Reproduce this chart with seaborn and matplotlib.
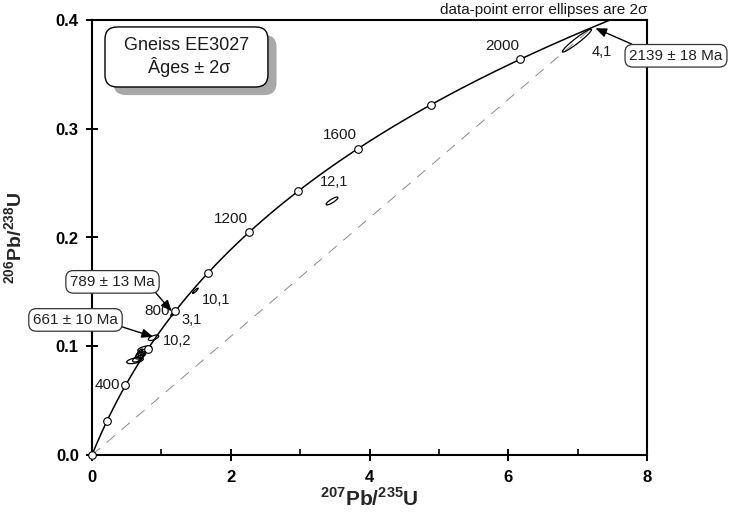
import numpy as np
import pandas as pd
import matplotlib
matplotlib.use("Agg")
import matplotlib.pyplot as plt
import seaborn as sns
from matplotlib.patches import Ellipse, FancyBboxPatch
import matplotlib.patheffects as pe
from matplotlib.ticker import MultipleLocator, FormatStrFormatter

# U decay constants (per year)
LAMBDA_238 = 1.55125e-10
LAMBDA_235 = 9.8485e-10

# Concordia age marks (Ma) and which of them carry a label
marker_ages = [0, 200, 400, 600, 800, 1000, 1200, 1400, 1600, 1800, 2000]
side_labelled_ages = [400, 800]
upper_labelled_ages = [1200, 1600, 2000]

# Zircon spots: 207Pb/235U, 206Pb/238U, 2-sigma errors and error correlation
spot_names = ["4,1", "12,1", "10,1", "3,1", "10,2"]
spot_x = [6.99, 3.46, 1.49, 1.175, 0.886]
spot_sx = [0.21, 0.085, 0.04, 0.04, 0.075]
spot_y = [0.381, 0.2336, 0.151, 0.1302, 0.1078]
spot_sy = [0.0105, 0.0036, 0.0024, 0.0025, 0.0025]
spot_rho = [0.96, 0.85, 0.9, 0.85, 0.6]
label_x = [7.20, 3.29, 1.58, 1.293, 1.024]
label_y = [0.371, 0.2514, 0.1426, 0.1242, 0.1052]

# Unlabelled spots of the young cluster
cluster_x = [0.76, 0.73, 0.70, 0.68, 0.62, 0.66, 0.71]
cluster_sx = [0.10, 0.065, 0.075, 0.05, 0.12, 0.075, 0.04]
cluster_y = [0.0975, 0.0945, 0.0915, 0.0935, 0.0868, 0.0885, 0.0895]
cluster_sy = [0.0028, 0.003, 0.0032, 0.004, 0.0028, 0.003, 0.0042]
cluster_rho = [0.5, 0.7, 0.6, 0.8, 0.5, 0.6, 0.9]

# Age callouts (Ma, 2-sigma) and their box positions
callout_age = [789, 661, 2139]
callout_err = [13, 10, 18]
callout_box_x = [0.2955, -0.238, 8.418]
callout_box_y = [0.1592, 0.1242, 0.3671]
callout_relpos = [(0.97, 0.0), (1.0, 0.1), (0.14, 1.0)]

discordia_age = 2139


def concordia(t_ma):
    t = np.asarray(t_ma, dtype=float) * 1e6
    return np.exp(LAMBDA_235 * t) - 1.0, np.exp(LAMBDA_238 * t) - 1.0


def error_ellipse(ax, x, sx, y, sy, rho, **kw):
    cov = np.array([[sx * sx, rho * sx * sy], [rho * sx * sy, sy * sy]])
    vals, vecs = np.linalg.eigh(cov)
    major = vecs[:, 1]
    angle = np.degrees(np.arctan2(major[1], major[0]))
    e = Ellipse((x, y), 2 * np.sqrt(vals[1]), 2 * np.sqrt(vals[0]),
                angle=angle, **kw)
    ax.add_patch(e)


sns.set_theme(style="ticks")
plt.rcParams["font.family"] = ["Liberation Sans", "DejaVu Sans"]
plt.rcParams["mathtext.fontset"] = "custom"
plt.rcParams["mathtext.rm"] = "Liberation Sans"
plt.rcParams["mathtext.bf"] = "Liberation Sans:bold"

fig = plt.figure(figsize=(7.37, 5.13), dpi=100)
ax = fig.add_axes([92 / 737, 58 / 513, 555 / 737, 435 / 513])
ax.set_xlim(0, 8)
ax.set_ylim(0, 0.4)

# Concordia curve
t_curve = np.linspace(0, 2400, 600)
cx, cy = concordia(t_curve)
curve = pd.DataFrame({"x": cx, "y": cy})
sns.lineplot(data=curve, x="x", y="y", sort=False, estimator=None,
             color="black", lw=1.1, ax=ax, zorder=3)

# Reference chord from the origin to the upper age
dx, dy = concordia([0, discordia_age])
ax.plot(dx, dy, color="#8a8a8a", lw=0.7, dashes=(11, 9), zorder=1)

# Error ellipses
for i in range(len(cluster_x)):
    error_ellipse(ax, cluster_x[i], cluster_sx[i], cluster_y[i], cluster_sy[i],
                  cluster_rho[i], fill=False, ec="black", lw=0.9, zorder=4)
for i in range(len(spot_names)):
    error_ellipse(ax, spot_x[i], spot_sx[i], spot_y[i], spot_sy[i],
                  spot_rho[i], fill=False, ec="black", lw=0.9, zorder=4)
    ax.text(label_x[i], label_y[i], spot_names[i], fontsize=10.5,
            ha="left", va="center", color="#1a1a1a", zorder=6)

# Age marks on the concordia
mx, my = concordia(marker_ages)
marks = pd.DataFrame({"x": mx, "y": my})
sns.scatterplot(data=marks, x="x", y="y", s=30, color="white",
                edgecolor="black", linewidth=0.8, ax=ax, zorder=5,
                clip_on=False)

for age in side_labelled_ages:
    px, py = concordia(age)
    ax.annotate(str(age), (px, py), xytext=(-4, 0), textcoords="offset points",
                ha="right", va="center", fontsize=11, color="#1a1a1a")
for age in upper_labelled_ages:
    px, py = concordia(age)
    ax.annotate(str(age), (px, py), xytext=(-13, 10), textcoords="offset points",
                ha="center", va="center", fontsize=11, color="#1a1a1a")

# Age callouts with arrows to the concordia
for age, err, bx, by, rp in zip(callout_age, callout_err, callout_box_x,
                                callout_box_y, callout_relpos):
    px, py = concordia(age)
    ax.annotate(f"{age} ± {err} Ma", xy=(px, py), xytext=(bx, by),
                textcoords="data", ha="center", va="center", fontsize=11,
                color="#222222", annotation_clip=False, zorder=7,
                bbox=dict(boxstyle="round,pad=0.28,rounding_size=0.5",
                          fc="white", ec="#333333", lw=0.9),
                arrowprops=dict(arrowstyle="-|>,head_length=0.6,head_width=0.25",
                                color="black", lw=1.0, relpos=rp,
                                shrinkA=0, shrinkB=2))

# Sample box with drop shadow
box = FancyBboxPatch((0.0234, 0.846), 0.2936, 0.138,
                     boxstyle="round,pad=0,rounding_size=0.022",
                     mutation_aspect=555 / 435, transform=ax.transAxes,
                     fc="white", ec="black", lw=1.0, zorder=8,
                     path_effects=[pe.withSimplePatchShadow(
                         offset=(6.2, -5.8), shadow_rgbFace="#a8a8a8", alpha=1.0)])
ax.add_patch(box)
ax.text(0.170, 0.915, "Gneiss EE3027\n Âges ± 2σ", transform=ax.transAxes,
        ha="center", va="center", multialignment="center", fontsize=13,
        linespacing=1.15, color="#1a1a1a", zorder=9)

ax.text(1.0, 1.006, "data-point error ellipses are 2σ", transform=ax.transAxes,
        ha="right", va="bottom", fontsize=11, color="#1a1a1a")

# Axes styling
ax.xaxis.set_major_locator(MultipleLocator(2))
ax.xaxis.set_minor_locator(MultipleLocator(1))
ax.yaxis.set_major_locator(MultipleLocator(0.1))
ax.xaxis.set_major_formatter(FormatStrFormatter("%d"))
ax.yaxis.set_major_formatter(FormatStrFormatter("%.1f"))
ax.tick_params(which="major", direction="inout", length=9, width=1.4,
               labelsize=12, color="black", labelcolor="black")
ax.tick_params(axis="x", which="major", pad=6)
ax.tick_params(axis="y", which="major", pad=5)
ax.tick_params(which="minor", direction="in", length=4, width=1.2, color="black")
for lab in ax.get_xticklabels() + ax.get_yticklabels():
    lab.set_fontweight("bold")
for side in ["top", "right", "bottom", "left"]:
    ax.spines[side].set_visible(True)
    ax.spines[side].set_linewidth(1.5)
    ax.spines[side].set_color("black")

ax.set_xlabel(r"$^{\mathbf{207}}$Pb/$^{\mathbf{235}}$U", fontsize=15,
              fontweight="bold", va="top")
ax.set_ylabel(r"$^{\mathbf{206}}$Pb/$^{\mathbf{238}}$U", fontsize=14,
              fontweight="bold")
ax.xaxis.set_label_coords(0.5, -0.075)
ax.yaxis.set_label_coords(-0.118, 0.5)

fig.savefig("out.png", dpi=100)
